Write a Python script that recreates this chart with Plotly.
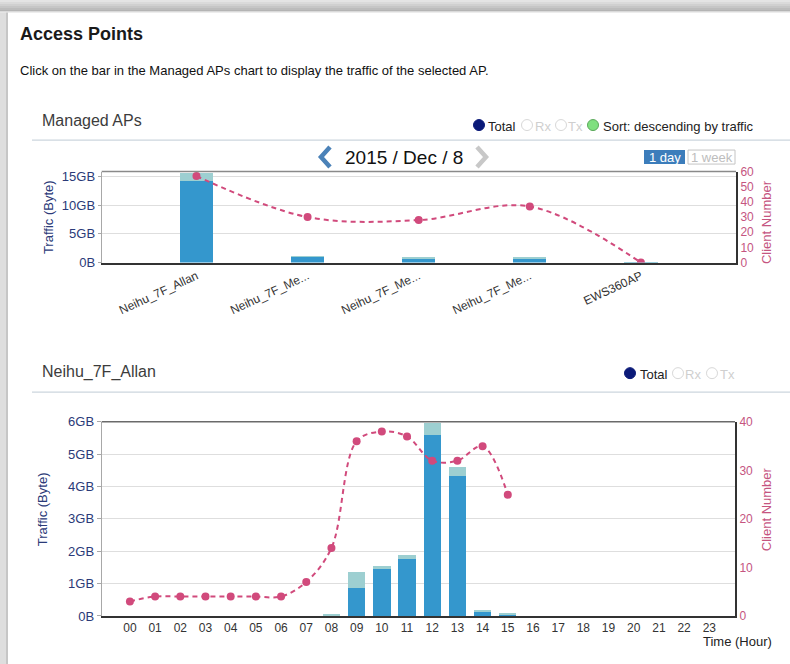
import plotly.graph_objects as go

W, H = 790, 664
# the photographed page shows the figure slightly shifted/squeezed vertically;
# positions below are given in reference-picture pixels and mapped here.
OY, SY = 7.0, 0.977


def px(x):
    return x / W


def py(y):
    return 1 - ((y - OY) / SY) / H


# ---------------- data ----------------
ap_names = ["Neihu_7F_Allan", "Neihu_7F_Me...", "Neihu_7F_Me...", "Neihu_7F_Me...", "EWS360AP"]
ap_rx_gb = [14.2, 1.1, 0.8, 0.6, 0.03]
ap_tx_gb = [1.37, 0.1, 0.18, 0.4, 0.05]
ap_clients = [57, 30, 28, 37, 0]

hours = ["00", "01", "02", "03", "04", "05", "06", "07", "08", "09", "10", "11",
         "12", "13", "14", "15", "16", "17", "18", "19", "20", "21", "22", "23"]
hour_rx_gb = [0, 0, 0, 0, 0, 0, 0, 0, 0.0, 0.87, 1.45, 1.75,
              5.6, 4.32, 0.15, 0.05, 0, 0, 0, 0, 0, 0, 0, 0]
hour_tx_gb = [0, 0, 0, 0, 0, 0, 0, 0, 0.07, 0.48, 0.08, 0.13,
              0.35, 0.29, 0.02, 0.03, 0, 0, 0, 0, 0, 0, 0, 0]
hour_clients = [3, 4, 4, 4, 4, 4, 4, 7, 14, 36, 38, 37,
                32, 32, 35, 25, None, None, None, None, None, None, None, None]

top_traffic_ticks = [0, 5, 10, 15]
top_traffic_labels = ["0B", "5GB", "10GB", "15GB"]
bottom_traffic_ticks = [0, 1, 2, 3, 4, 5, 6]
bottom_traffic_labels = ["0B", "1GB", "2GB", "3GB", "4GB", "5GB", "6GB"]

# ---------------- styles ----------------
FONT = "Liberation Sans, Arial, sans-serif"
DARK_BAR = "#3497cd"
LIGHT_BAR = "#9dcfd1"
PINK = "#d14a7c"
PINK_TXT = "#c5557f"
NAVY_TXT = "#2b3a78"
GRID = "#dedede"

ap_idx = list(range(len(ap_names)))
hour_idx = list(range(len(hours)))

fig = go.Figure()

# top chart
fig.add_trace(go.Bar(x=ap_idx, y=ap_rx_gb, xaxis="x", yaxis="y", width=0.3,
                     marker=dict(color=DARK_BAR, line=dict(width=0)), name="Rx"))
fig.add_trace(go.Bar(x=ap_idx, y=ap_tx_gb, xaxis="x", yaxis="y", width=0.3,
                     marker=dict(color=LIGHT_BAR, line=dict(width=0)), name="Tx"))
fig.add_trace(go.Scatter(x=ap_idx, y=ap_clients, xaxis="x", yaxis="y2",
                         mode="lines+markers",
                         line=dict(color=PINK, width=2, dash="5px,4px", shape="spline", smoothing=1),
                         marker=dict(color=PINK, size=8), name="Clients"))

# bottom chart
fig.add_trace(go.Bar(x=hour_idx, y=hour_rx_gb, xaxis="x2", yaxis="y3", width=0.69,
                     marker=dict(color=DARK_BAR, line=dict(width=0)), name="Rx"))
fig.add_trace(go.Bar(x=hour_idx, y=hour_tx_gb, xaxis="x2", yaxis="y3", width=0.69,
                     marker=dict(color=LIGHT_BAR, line=dict(width=0)), name="Tx"))
fig.add_trace(go.Scatter(x=hour_idx, y=hour_clients, xaxis="x2", yaxis="y4",
                         mode="lines+markers",
                         line=dict(color=PINK, width=2, dash="5px,4px", shape="spline", smoothing=1),
                         marker=dict(color=PINK, size=8), name="Clients"))

shapes = []
annotations = []


def rect(x0, y0, x1, y1, fill, line=None, lw=0):
    shapes.append(dict(type="rect", xref="paper", yref="paper",
                       x0=px(x0), x1=px(x1), y0=py(y1), y1=py(y0),
                       fillcolor=fill, line=dict(color=line or fill, width=lw)))


def hline(x0, x1, y, color, width=1):
    shapes.append(dict(type="line", xref="paper", yref="paper",
                       x0=px(x0), x1=px(x1), y0=py(y), y1=py(y),
                       line=dict(color=color, width=width)))


def circle(cx, cy, r, fill, line, lw=1):
    shapes.append(dict(type="circle", xref="paper", yref="paper",
                       x0=px(cx - r), x1=px(cx + r), y0=py(cy + r), y1=py(cy - r),
                       fillcolor=fill, line=dict(color=line, width=lw)))


def text(x, y, s, size, color, anchor="left", angle=0):
    if anchor == "left":
        x -= 2
    annotations.append(dict(x=px(x), y=py(y), xref="paper", yref="paper", text=s,
                            showarrow=False, xanchor=anchor, yanchor="middle",
                            textangle=angle,
                            font=dict(family=FONT, size=size, color=color)))


# window shadow (top and left)
shadow_top = [(0, 2, "#e4e4e4"), (2, 4, "#dadada"), (4, 6, "#d0d0d0"),
              (6, 8, "#c6c6c6"), (8, 10, "#bcbcbc"), (10, 11.5, "#b4b4b4"), (11.5, 12.5, "#dcdcdc")]
for y0, y1, c in shadow_top:
    rect(0, y0, W, y1, c)
rect(0, 12.5, 6, H + 20, "#dedede")
rect(6, 12.5, 8, H + 20, "#c6c6c6")

# headings
text(20, 34, "<b>Access Points</b>", 18, "#1a1a1a")
text(20, 70, "Click on the bar in the Managed APs chart to display the traffic of the selected AP.", 13, "#111")
text(42, 120, "Managed APs", 16, "#3c3c3c")
hline(32, W, 140, "#ccd6de", 1.2)
text(42, 372, "Neihu_7F_Allan", 16, "#3c3c3c")
hline(32, W, 392, "#ccd6de", 1.2)

# top legend
circle(479, 125, 5.5, "#0b1a78", "#0b1a78")
text(488, 126, "Total", 13, "#222")
circle(527, 125, 5.5, "white", "#d8d8d8")
text(535, 126, "Rx", 13, "#cfcfcf")
circle(561, 125, 5.5, "white", "#d8d8d8")
text(568, 126, "Tx", 13, "#cfcfcf")
circle(593, 125, 5.5, "#7fe07f", "#5aa85a")
text(603, 126, "Sort: descending by traffic", 13, "#222")

# bottom legend
circle(630, 373, 5.5, "#0b1a78", "#0b1a78")
text(640, 374, "Total", 13, "#222")
circle(678, 373, 5.5, "white", "#d8d8d8")
text(685, 374, "Rx", 13, "#cfcfcf")
circle(712, 373, 5.5, "white", "#d8d8d8")
text(720, 374, "Tx", 13, "#cfcfcf")

# date navigator
text(404, 157, "2015 / Dec / 8", 19, "#111", anchor="center")
shapes.append(dict(type="path", xref="paper", yref="paper",
                   path=f"M {px(330)},{py(147)} L {px(321)},{py(157)} L {px(330)},{py(167)}",
                   line=dict(color="#4b82b8", width=4.5)))
shapes.append(dict(type="path", xref="paper", yref="paper",
                   path=f"M {px(477)},{py(147)} L {px(486)},{py(157)} L {px(477)},{py(167)}",
                   line=dict(color="#c8c8c8", width=4.5)))

# period buttons
rect(644, 150, 685, 164, "#3c7dbb")
text(664.5, 157, "1 day", 13, "white", anchor="center")
rect(688, 150, 735, 164, "white", "#c4c4c4", 1)
text(711.5, 157, "1 week", 13, "#bdbdbd", anchor="center")

# axis titles
text(48, 217, "Traffic (Byte)", 13, NAVY_TXT, anchor="center", angle=-90)
text(766, 222, "Client Number", 13, PINK_TXT, anchor="center", angle=-90)
text(42, 509, "Traffic (Byte)", 13, NAVY_TXT, anchor="center", angle=-90)
text(766, 509, "Client Number", 13, PINK_TXT, anchor="center", angle=-90)
text(737, 641, "Time (Hour)", 13, "#222", anchor="center")

# plot top borders
shapes.append(dict(type="line", xref="x domain", yref="y domain", x0=0, x1=1, y0=1, y1=1,
                   line=dict(color="#8a8a8a", width=1.5)))
shapes.append(dict(type="line", xref="x2 domain", yref="y3 domain", x0=0, x1=1, y0=1, y1=1,
                   line=dict(color="#6a6a6a", width=1.5)))

fig.update_layout(
    width=W, height=H, autosize=False,
    margin=dict(l=0, r=0, t=0, b=0),
    paper_bgcolor="white", plot_bgcolor="white",
    showlegend=False, barmode="stack",
    font=dict(family=FONT, size=12, color="#333"),
    shapes=shapes, annotations=annotations,
    xaxis=dict(domain=[px(101.7), px(736)], range=[-0.853, 4.856], anchor="y",
               tickmode="array", tickvals=ap_idx, ticktext=ap_names, tickangle=-25,
               tickfont=dict(size=12, color="#333"),
               showline=True, linecolor="#333", linewidth=2, ticks="",
               showgrid=False, zeroline=False, fixedrange=True),
    yaxis=dict(domain=[py(262.5), py(171.5)], range=[0, 15.87], anchor="x",
               tickmode="array", tickvals=top_traffic_ticks, ticktext=top_traffic_labels,
               tickfont=dict(size=13, color=NAVY_TXT),
               showline=True, linecolor="#a8a8a8", linewidth=1,
               ticks="outside", ticklen=3, tickcolor="#a8a8a8",
               showgrid=True, gridcolor=GRID, zeroline=False, fixedrange=True),
    yaxis2=dict(overlaying="y", side="right", anchor="x", range=[0, 60], dtick=10,
                tickfont=dict(size=12, color=PINK_TXT),
                showline=True, linecolor="#333", linewidth=2, ticks="",
                showgrid=False, zeroline=False, fixedrange=True),
    xaxis2=dict(domain=[px(101.7), px(735)], range=[-1.12, 24.02], anchor="y3",
                tickmode="array", tickvals=hour_idx, ticktext=hours, tickangle=0,
                tickfont=dict(size=12, color="#333"),
                showline=True, linecolor="#333", linewidth=2, ticks="",
                showgrid=False, zeroline=False, fixedrange=True),
    yaxis3=dict(domain=[py(615.7), py(421.7)], range=[0, 6], anchor="x2",
                tickmode="array", tickvals=bottom_traffic_ticks, ticktext=bottom_traffic_labels,
                tickfont=dict(size=13, color=NAVY_TXT),
                showline=True, linecolor="#a8a8a8", linewidth=1,
                ticks="outside", ticklen=4, tickcolor="#a8a8a8",
                showgrid=True, gridcolor=GRID, zeroline=False, fixedrange=True),
    yaxis4=dict(overlaying="y3", side="right", anchor="x2", range=[0, 40], dtick=10,
                tickfont=dict(size=12, color=PINK_TXT),
                showline=True, linecolor="#333", linewidth=2, ticks="",
                showgrid=False, zeroline=False, fixedrange=True),
)

BG = ("linear-gradient(to right, #dedede 0px, #dedede 6px, #c6c6c6 6px, #c6c6c6 8px, transparent 8px), "
      "linear-gradient(to bottom, #e0e0e0 0px, #cccccc 8px, white 8px)")
fig.write_html("out.html", config={"displayModeBar": False, "responsive": False},
               post_script="document.documentElement.style.margin='0px';"
                           "document.body.style.margin='0px';document.body.style.padding='0px';"
                           "document.documentElement.style.overflow='hidden';"
                           "document.body.style.overflow='hidden';"
                           f"document.body.style.background='{BG}';")
